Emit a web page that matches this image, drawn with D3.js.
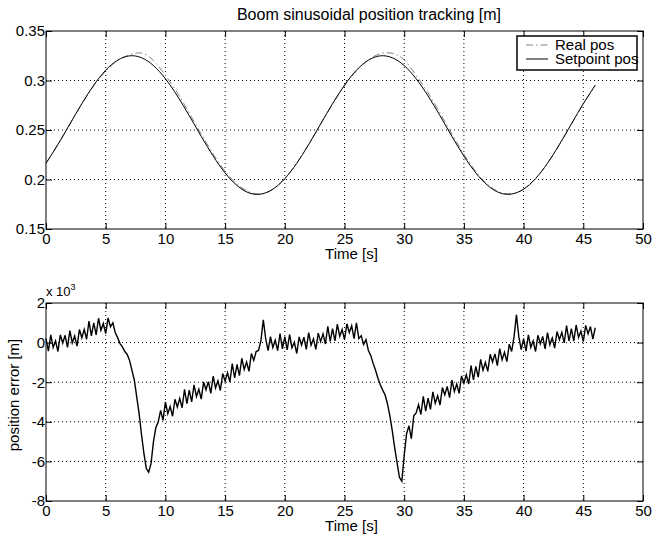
<!DOCTYPE html>
<html>
<head>
<meta charset="utf-8">
<script src="https://cdn.jsdelivr.net/npm/d3@7"></script>
<style>
  body { margin: 0; background: #fff; }
  text { font-family: "Liberation Sans", Arial, Helvetica, sans-serif; fill: #000; }
</style>
</head>
<body>
<script>
// tick labels
const timeTicks = [0, 5, 10, 15, 20, 25, 30, 35, 40, 45, 50]
const posTicks = [0.15, 0.2, 0.25, 0.3, 0.35]
const errTicks = [-8, -6, -4, -2, 0, 2]

// boom position, one sample per second from t = 0 s
const POS_STEP = 1
const setpointPos = [0.2164, 0.2354, 0.2561, 0.2766, 0.2953, 0.3104, 0.3205, 0.3249, 0.3230, 0.3151, 0.3018,
  0.2844, 0.2644, 0.2435, 0.2237, 0.2066, 0.1939, 0.1865, 0.1853, 0.1902, 0.2009,
  0.2164, 0.2354, 0.2561, 0.2766, 0.2953, 0.3104, 0.3205, 0.3249, 0.3230, 0.3151,
  0.3018, 0.2844, 0.2644, 0.2435, 0.2237, 0.2066, 0.1939, 0.1865, 0.1853, 0.1902, 0.2009,
  0.2164, 0.2354, 0.2561, 0.2766, 0.2953]
const realPos = [0.2165, 0.2354, 0.2559, 0.2762, 0.2946, 0.3095, 0.3202, 0.3258, 0.3277, 0.3201, 0.3052,
  0.2875, 0.2671, 0.2459, 0.2258, 0.2084, 0.1953, 0.1875, 0.1853, 0.1903, 0.2009,
  0.2165, 0.2353, 0.2559, 0.2762, 0.2947, 0.3098, 0.3208, 0.3270, 0.3275, 0.3208,
  0.3052, 0.2875, 0.2671, 0.2458, 0.2256, 0.2081, 0.1949, 0.1872, 0.1856, 0.1903, 0.2009,
  0.2163, 0.2351, 0.2557, 0.2761, 0.2947]

// position error (x 10^-3 m), one sample every 0.2 s from t = 0 s
const ERR_STEP = 0.2
const posError = [
  0.20, -0.43, 0.39, -0.24, 0.08, -0.45, 0.39, -0.02, 0.37, -0.24,
  0.60, -0.01, 0.33, -0.18, 0.66, 0.25, 0.66, 0.17, 1.08, 0.34,
  1.00, 0.39, 1.23, 0.62, 0.96, 0.45, 1.25, 0.80, 1.00, 0.50,
  0.25, -0.05, -0.22, -0.45, -0.60, -0.90, -1.40, -1.90, -2.75, -3.60,
  -4.65, -5.60, -6.35, -6.55, -6.10, -5.00, -4.30, -4.00, -3.42, -3.93,
  -3.00, -3.59, -3.23, -3.72, -2.86, -3.25, -2.82, -3.29, -2.36, -3.08,
  -2.40, -2.99, -2.13, -2.72, -2.36, -2.85, -1.99, -2.38, -1.97, -2.56,
  -1.70, -2.29, -1.93, -2.42, -1.56, -1.95, -1.52, -1.99, -1.06, -1.78,
  -1.10, -1.67, -0.79, -1.36, -0.98, -1.45, -0.55, -0.90, -0.45, -0.40,
  0.10, 1.15, 0.20, -0.40, 0.30, -0.25, 0.12, -0.41, 0.46, -0.32,
  0.30, -0.37, 0.41, -0.26, 0.02, -0.55, 0.29, -0.12, 0.27, -0.34,
  0.50, -0.13, 0.19, -0.34, 0.48, 0.05, 0.44, -0.07, 0.82, 0.06,
  0.70, 0.09, 0.93, 0.32, 0.66, 0.15, 0.95, 0.50, 0.85, 0.20,
  1.00, 0.20, 0.35, -0.10, 0.15, -0.40, -0.65, -1.05, -1.40, -1.80,
  -2.13, -2.40, -2.65, -3.10, -3.70, -4.45, -5.30, -6.05, -6.80, -7.00,
  -5.70, -4.60, -4.20, -4.85, -3.70, -3.55, -3.14, -3.63, -2.72, -3.46,
  -2.80, -3.37, -2.49, -3.06, -2.68, -3.15, -2.27, -2.64, -2.21, -2.78,
  -1.90, -2.47, -2.09, -2.56, -1.68, -2.05, -1.62, -2.09, -1.16, -1.88,
  -1.20, -1.75, -0.85, -1.40, -1.00, -1.45, -0.59, -0.98, -0.57, -1.16,
  -0.30, -0.87, -0.49, -0.96, -0.08, -0.45, 0.30, 1.40, 0.30, -0.35,
  0.20, -0.43, 0.39, -0.24, 0.08, -0.45, 0.37, -0.06, 0.31, -0.32,
  0.50, -0.11, 0.23, -0.28, 0.56, 0.15, 0.52, -0.01, 0.86, 0.08,
  0.70, 0.07, 0.89, 0.26, 0.58, 0.05, 0.87, 0.44, 0.81, 0.18,
  0.75]

const WIDTH = 669
const HEIGHT = 540
const LEFT = 46
const RIGHT = 643
const TICK = 6
const FONT = 15

const svg = d3.select('body').append('svg')
  .attr('width', WIDTH)
  .attr('height', HEIGHT)

svg.append('rect').attr('width', WIDTH).attr('height', HEIGHT).attr('fill', '#fff')

const x = d3.scaleLinear().domain([0, 50]).range([LEFT, RIGHT])

/**
 * Draws grid, frame, inward ticks and tick labels of one subplot.
 */
function drawFrame (y, yTicks, top, bottom) {
  const g = svg.append('g')

  // dotted grid
  g.selectAll('.vgrid').data(timeTicks.slice(1, -1)).join('line')
    .attr('x1', d => x(d)).attr('x2', d => x(d))
    .attr('y1', top).attr('y2', bottom)
    .attr('stroke', '#000').attr('stroke-width', 1)
    .attr('stroke-dasharray', '1,3')
  g.selectAll('.hgrid').data(yTicks.slice(1, -1)).join('line')
    .attr('x1', LEFT).attr('x2', RIGHT)
    .attr('y1', d => y(d)).attr('y2', d => y(d))
    .attr('stroke', '#000').attr('stroke-width', 1)
    .attr('stroke-dasharray', '1,3')

  const fmt = d => String(d)
  g.append('g').attr('transform', `translate(0,${bottom})`)
    .call(d3.axisBottom(x).tickValues(timeTicks).tickSize(-TICK).tickPadding(4).tickFormat(fmt))
  g.append('g').attr('transform', `translate(0,${top})`)
    .call(d3.axisTop(x).tickValues(timeTicks).tickSize(-TICK).tickFormat(''))
  g.append('g').attr('transform', `translate(${LEFT},0)`)
    .call(d3.axisLeft(y).tickValues(yTicks).tickSize(-TICK).tickPadding(1).tickFormat(fmt))
  g.append('g').attr('transform', `translate(${RIGHT},0)`)
    .call(d3.axisRight(y).tickValues(yTicks).tickSize(-TICK).tickFormat(''))

  g.selectAll('.domain').remove()
  g.selectAll('.tick line').attr('stroke', '#000')
  g.selectAll('.tick text')
    .attr('font-family', '"Liberation Sans", Arial, sans-serif')
    .attr('font-size', FONT)
    .attr('fill', '#000')

  g.append('rect')
    .attr('x', LEFT).attr('y', top)
    .attr('width', RIGHT - LEFT).attr('height', bottom - top)
    .attr('fill', 'none').attr('stroke', '#000').attr('stroke-width', 1)

  g.append('text')
    .attr('x', (LEFT + RIGHT) / 2 + 7).attr('y', bottom + 30)
    .attr('text-anchor', 'middle').attr('font-size', FONT)
    .text('Time [s]')
  return g
}

// ---------- top : position tracking ----------
const TOP1 = 31
const BOT1 = 229
const yPos = d3.scaleLinear().domain([0.15, 0.35]).range([BOT1, TOP1])
drawFrame(yPos, posTicks, TOP1, BOT1)

const posLine = d3.line()
  .x((d, i) => x(i * POS_STEP))
  .y(d => yPos(d))
  .curve(d3.curveNatural)

svg.append('path').datum(realPos)
  .attr('d', posLine)
  .attr('fill', 'none').attr('stroke', '#808080').attr('stroke-width', 1)
  .attr('stroke-dasharray', '7,3,1.5,3')

svg.append('path').datum(setpointPos)
  .attr('d', posLine)
  .attr('fill', 'none').attr('stroke', '#000').attr('stroke-width', 1)

svg.append('text')
  .attr('x', 369).attr('y', 20)
  .attr('text-anchor', 'middle').attr('font-size', 16)
  .text('Boom sinusoidal position tracking [m]')

// legend
const legend = svg.append('g')
const LX = 517
const LY = 36
legend.append('rect').attr('x', LX).attr('y', LY).attr('width', 120).attr('height', 34)
  .attr('fill', '#fff')
legend.append('line').attr('x1', LX + 9).attr('x2', LX + 31).attr('y1', LY + 9).attr('y2', LY + 9)
  .attr('stroke', '#808080').attr('stroke-dasharray', '7,3,1.5,3')
legend.append('line').attr('x1', LX + 9).attr('x2', LX + 31).attr('y1', LY + 23).attr('y2', LY + 23)
  .attr('stroke', '#000')
legend.append('text').attr('x', LX + 38).attr('y', LY + 14).attr('font-size', FONT).text('Real pos')
legend.append('text').attr('x', LX + 38).attr('y', LY + 28).attr('font-size', FONT).text('Setpoint pos')
legend.append('rect').attr('x', LX).attr('y', LY).attr('width', 120).attr('height', 34)
  .attr('fill', 'none').attr('stroke', '#000').attr('stroke-width', 1.5)

// ---------- bottom : position error ----------
const TOP2 = 303
const BOT2 = 501
const yErr = d3.scaleLinear().domain([-8, 2]).range([BOT2, TOP2])
drawFrame(yErr, errTicks, TOP2, BOT2)

svg.append('path').datum(posError)
  .attr('d', d3.line().x((d, i) => x(i * ERR_STEP)).y(d => yErr(d)))
  .attr('fill', 'none').attr('stroke', '#000').attr('stroke-width', 1.4)
  .attr('stroke-linejoin', 'miter')

svg.append('text')
  .attr('transform', 'translate(19,395) rotate(-90)')
  .attr('text-anchor', 'middle').attr('font-size', FONT)
  .text('position error [m]')

const mult = svg.append('text').attr('x', LEFT).attr('y', 296).attr('font-size', 13)
mult.append('tspan').text('x 10')
mult.append('tspan').attr('dy', -6).attr('font-size', 9).text('3')
</script>
</body>
</html>
